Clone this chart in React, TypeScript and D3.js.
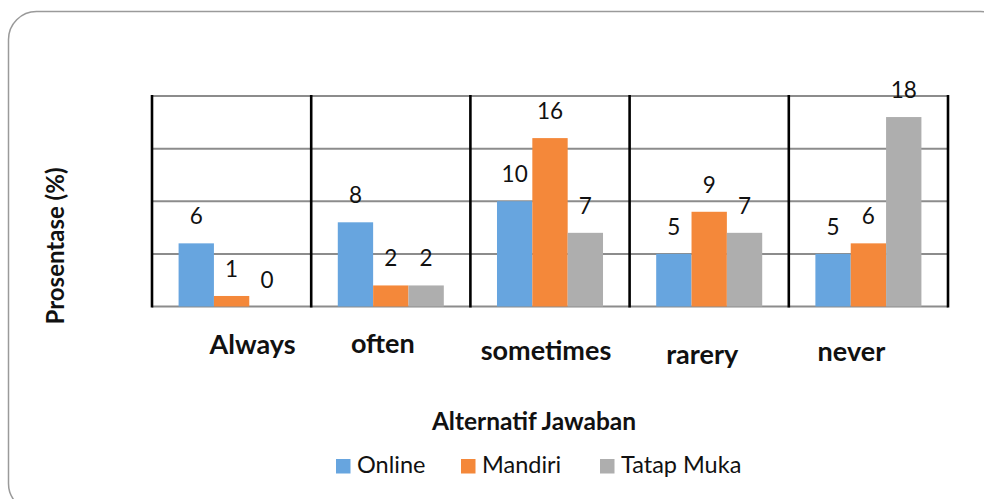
import React, { useEffect, useRef } from 'react';

import * as d3 from 'd3';

const categories = ['Always', 'often', 'sometimes', 'rarery', 'never']
const seriesNames = ['Online', 'Mandiri', 'Tatap Muka']
const online = [6, 8, 10, 5, 5]
const mandiri = [1, 2, 16, 9, 6]
const tatapMuka = [0, 2, 7, 7, 18]
const yTicks = [0, 5, 10, 15, 20]

const colors = ['#67A5DF', '#F4883A', '#AEAEAE']
// the category labels were dragged around by hand in the original
const labelDx = [21, -8, -4, -7, -17]
const labelDy = [47, 46.5, 53, 57, 54]

export default function App() {
    const ref = useRef<HTMLDivElement>(null)

    useEffect(() => {
        if (!ref.current) return
        d3.select(ref.current).selectAll('*').remove()

        const width = 984, height = 499
        const margin = { top: 96, right: 36, bottom: 192.5, left: 152 }
        const innerW = width - margin.left - margin.right
        const innerH = height - margin.top - margin.bottom

        const svg = d3.select(ref.current)
            .append('svg')
            .attr('width', width)
            .attr('height', height)
            .style('display', 'block')
            .style('font-family', 'Lato, "Open Sans", sans-serif')

        svg.append('rect')
            .attr('width', width).attr('height', height).attr('fill', '#fff')

        // outer rounded frame (runs off the right and bottom edges)
        svg.append('rect')
            .attr('x', 8.5).attr('y', 11.5)
            .attr('width', 1000).attr('height', 500)
            .attr('rx', 28).attr('ry', 28)
            .attr('fill', 'none')
            .attr('stroke', '#9a9a9a')
            .attr('stroke-width', 1.5)

        const g = svg.append('g')
            .attr('transform', 'translate(' + margin.left + ',' + margin.top + ')')

        const x = d3.scaleBand()
            .domain(categories)
            .range([0, innerW])
            .padding(0)
        const bw = x.bandwidth()

        const xs = d3.scaleBand()
            .domain(seriesNames)
            .range([bw * 0.167, bw * 0.833])
            .padding(0)

        const y = d3.scaleLinear()
            .domain([0, 20])
            .range([innerH, 0])

        // horizontal gridlines
        g.selectAll('line.grid')
            .data(yTicks)
            .enter()
            .append('line')
            .attr('class', 'grid')
            .attr('x1', 0).attr('x2', innerW)
            .attr('y1', d => y(d)).attr('y2', d => y(d))
            .attr('stroke', '#8c8c8c')
            .attr('stroke-width', 2)

        const series = [online, mandiri, tatapMuka]
        const rows = categories.flatMap((c, i) =>
            seriesNames.map((s, j) => ({ cat: c, name: s, value: series[j][i], color: colors[j] })))

        // bars
        g.selectAll('rect.bar')
            .data(rows)
            .enter()
            .append('rect')
            .attr('class', 'bar')
            .attr('x', d => (x(d.cat) as number) + (xs(d.name) as number))
            .attr('y', d => y(d.value))
            .attr('width', xs.bandwidth())
            .attr('height', d => innerH - y(d.value))
            .attr('fill', d => d.color)

        // category separators
        const edges = categories.map(c => x(c) as number).concat([innerW])
        g.selectAll('line.sep')
            .data(edges)
            .enter()
            .append('line')
            .attr('class', 'sep')
            .attr('x1', d => d).attr('x2', d => d)
            .attr('y1', -1).attr('y2', innerH + 1)
            .attr('stroke', '#000')
            .attr('stroke-width', 2.6)

        // value labels
        g.selectAll('text.val')
            .data(rows)
            .enter()
            .append('text')
            .attr('class', 'val')
            .attr('x', d => (x(d.cat) as number) + (xs(d.name) as number) + xs.bandwidth() / 2)
            .attr('y', d => y(d.value) - 19)
            .attr('text-anchor', 'middle')
            .attr('font-size', 22.5)
            .attr('fill', '#111')
            .text(d => d.value)

        // category labels
        g.selectAll('text.cat')
            .data(categories)
            .enter()
            .append('text')
            .attr('class', 'cat')
            .attr('x', (d, i) => (x(d) as number) + bw / 2 + labelDx[i])
            .attr('y', (d, i) => innerH + labelDy[i])
            .attr('text-anchor', 'middle')
            .attr('font-size', 27)
            .attr('font-weight', 'bold')
            .attr('fill', '#111')
            .text(d => d)

        // axis titles
        svg.append('text')
            .attr('x', 534).attr('y', 430)
            .attr('text-anchor', 'middle')
            .attr('font-size', 24.5)
            .attr('font-weight', 'bold')
            .attr('fill', '#111')
            .text('Alternatif Jawaban')

        svg.append('text')
            .attr('transform', 'translate(64,246)rotate(-90)')
            .attr('text-anchor', 'middle')
            .attr('font-size', 24)
            .attr('font-weight', 'bold')
            .attr('fill', '#111')
            .text('Prosentase (%)')

        // legend
        const legendX = [336, 461, 600]
        const leg = svg.selectAll('g.leg')
            .data(seriesNames)
            .enter()
            .append('g')
            .attr('class', 'leg')
            .attr('transform', (d, i) => 'translate(' + legendX[i] + ',459)')
        leg.append('rect')
            .attr('width', 14.5).attr('height', 14.5)
            .attr('fill', (d, i) => colors[i])
        leg.append('text')
            .attr('x', 21).attr('y', 14.3)
            .attr('font-size', 23.5)
            .attr('fill', '#111')
            .text(d => d)
    }, [])

    return (
        <div style={{ position: 'absolute', left: 0, top: 0 }} ref={ref}></div>
    );
}
